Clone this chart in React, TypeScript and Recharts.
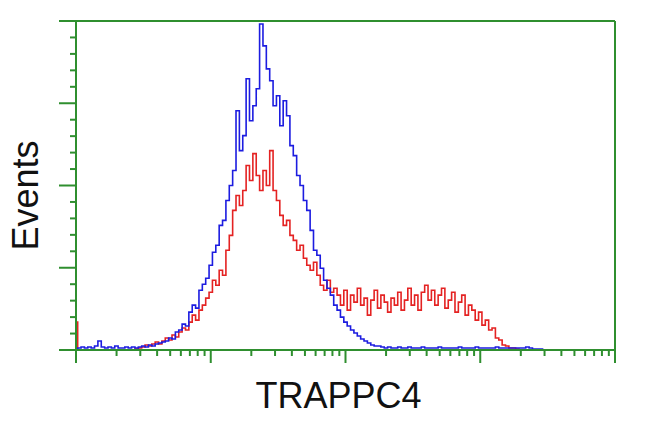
import React from 'react';
import { LineChart, Line, XAxis, YAxis, ReferenceLine, Label } from 'recharts';

const DECADE_STEP = 0.025;
const X_LABEL = 'TRAPPC4';
const Y_LABEL = 'Events';

const blueCounts = [
  0, 2, 3, 2, 3, 2, 4, 9, 3, 2,
  3, 2, 4, 2, 2, 3, 2, 3, 2, 3,
  4, 3, 5, 4, 6, 7, 8, 9, 12, 11,
  18, 20, 26, 24, 38, 45, 42, 60, 66, 72,
  85, 98, 105, 125, 130, 150, 165, 180, 240, 200,
  215, 272, 230, 245, 262, 327, 305, 282, 270, 245,
  255, 225, 250, 235, 205, 195, 175, 165, 150, 140,
  120, 100, 95, 82, 70, 62, 55, 45, 40, 33,
  28, 24, 20, 17, 14, 11, 9, 7, 5, 4,
  4, 3, 2, 3, 2, 2, 3, 2, 2, 3,
  2, 2, 2, 3, 2, 2, 2, 2, 3, 2,
  2, 2, 2, 2, 3, 2, 2, 2, 2, 3,
  2, 2, 2, 2, 2, 3, 2, 2, 2, 2,
  2, 2, 2, 2, 3, 2, 1, 1, 1, 0,
  0, 0, 0, 0, 0, 0, 0, 0, 0, 0,
  0, 0, 0, 0, 0, 0, 0, 0, 0, 0,
  0,
];

const redCounts = [
  28, 0, 0, 0, 0, 0, 0, 0, 0, 0,
  0, 0, 0, 0, 0, 0, 0, 0, 1, 2,
  3, 5, 4, 6, 8, 6, 9, 12, 10, 15,
  13, 18, 22, 20, 28, 35, 30, 40, 45, 52,
  58, 70, 65, 80, 75, 100, 115, 140, 155, 145,
  160, 185, 170, 197, 175, 160, 180, 165, 200, 160,
  150, 135, 125, 130, 115, 110, 100, 105, 92, 85,
  80, 88, 75, 65, 60, 70, 58, 62, 55, 45,
  60, 40, 55, 48, 62, 45, 52, 35, 50, 60,
  42, 55, 48, 38, 52, 45, 58, 40, 50, 62,
  45, 55, 40, 58, 65, 50, 60, 45, 55, 62,
  42, 50, 58, 38, 48, 55, 35, 45, 40, 30,
  38, 25, 30, 20, 22, 12, 10, 5, 4, 2,
  2, 1, 0, 0, 0, 0, 0, 0, 0, 0,
  0, 0, 0, 0, 0, 0, 0, 0, 0, 0,
  0, 0, 0, 0, 0, 0, 0, 0, 0, 0,
  0,
];

const xDecades = [0, 1, 2, 3, 4];
const xMinorFactors = [2, 3, 4, 5, 6, 7, 8, 9];
const yMax = 330;
const yMajorStep = 82.5;
const yMinorStep = 16.5;

const GREEN = '#2f8f2f';
const BLUE = '#1c1ce0';
const RED = '#e42222';

const data = blueCounts.map((b, i) => ({
  d: Number((i * DECADE_STEP).toFixed(4)),
  blue: b,
  red: redCounts[i],
}));

const xTicks: number[] = [];
xDecades.forEach((dec) => {
  xTicks.push(dec);
  if (dec < 4) xMinorFactors.forEach((f) => xTicks.push(dec + Math.log10(f)));
});

const yTicks: number[] = [];
for (let v = 0; v <= yMax + 0.001; v += yMinorStep) yTicks.push(Number(v.toFixed(3)));

const XTick = (props: any) => {
  const { x, y, payload } = props;
  const v = payload.value;
  const major = Math.abs(v - Math.round(v)) < 1e-6;
  return <line x1={x} x2={x} y1={y} y2={y + (major ? 13 : 6)} stroke={GREEN} strokeWidth={2} />;
};

const YTick = (props: any) => {
  const { x, y, payload } = props;
  const r = payload.value / yMajorStep;
  const major = Math.abs(r - Math.round(r)) < 1e-6;
  return <line x1={x} x2={x - (major ? 17 : 6)} y1={y} y2={y} stroke={GREEN} strokeWidth={2} />;
};

const XLabelContent = (props: any) => {
  const vb = props.viewBox;
  return (
    <text
      x={vb.x + vb.width / 2 - 7}
      y={vb.y + 58}
      textAnchor="middle"
      fontFamily="'Liberation Sans', Arial, sans-serif"
      fontSize={36}
      fill="#111"
    >
      {X_LABEL}
    </text>
  );
};

const YLabelContent = (props: any) => {
  const vb = props.viewBox;
  const cx = vb.x + 22;
  const cy = vb.y + vb.height / 2 + 10;
  return (
    <text
      x={cx}
      y={cy}
      transform={`rotate(-90, ${cx}, ${cy})`}
      textAnchor="middle"
      fontFamily="'Liberation Sans', Arial, sans-serif"
      fontSize={36}
      fill="#111"
    >
      {Y_LABEL}
    </text>
  );
};

export default function App() {
  return (
    <div style={{ position: 'absolute', left: 0, top: 0, width: 650, height: 432, background: '#fff' }}>
      <LineChart width={650} height={432} data={data} margin={{ top: 21, right: 35, bottom: 52, left: 16 }}>
        <XAxis
          dataKey="d"
          type="number"
          domain={[0, 4]}
          ticks={xTicks}
          interval={0}
          tickSize={0}
          tickMargin={0}
          tickLine={false}
          tick={<XTick />}
          height={30}
          axisLine={{ stroke: GREEN, strokeWidth: 2 }}
        >
          <Label content={<XLabelContent />} />
        </XAxis>
        <YAxis
          type="number"
          domain={[0, yMax]}
          ticks={yTicks}
          interval={0}
          tickSize={0}
          tickMargin={0}
          tickLine={false}
          tick={<YTick />}
          width={60}
          axisLine={{ stroke: GREEN, strokeWidth: 2 }}
        >
          <Label content={<YLabelContent />} />
        </YAxis>
        <ReferenceLine y={yMax} stroke={GREEN} strokeWidth={2} />
        <ReferenceLine x={4} stroke={GREEN} strokeWidth={2} />
        <Line dataKey="red" type="step" stroke={RED} strokeWidth={1.6} dot={false} isAnimationActive={false} />
        <Line dataKey="blue" type="step" stroke={BLUE} strokeWidth={1.6} dot={false} isAnimationActive={false} />
      </LineChart>
    </div>
  );
}
